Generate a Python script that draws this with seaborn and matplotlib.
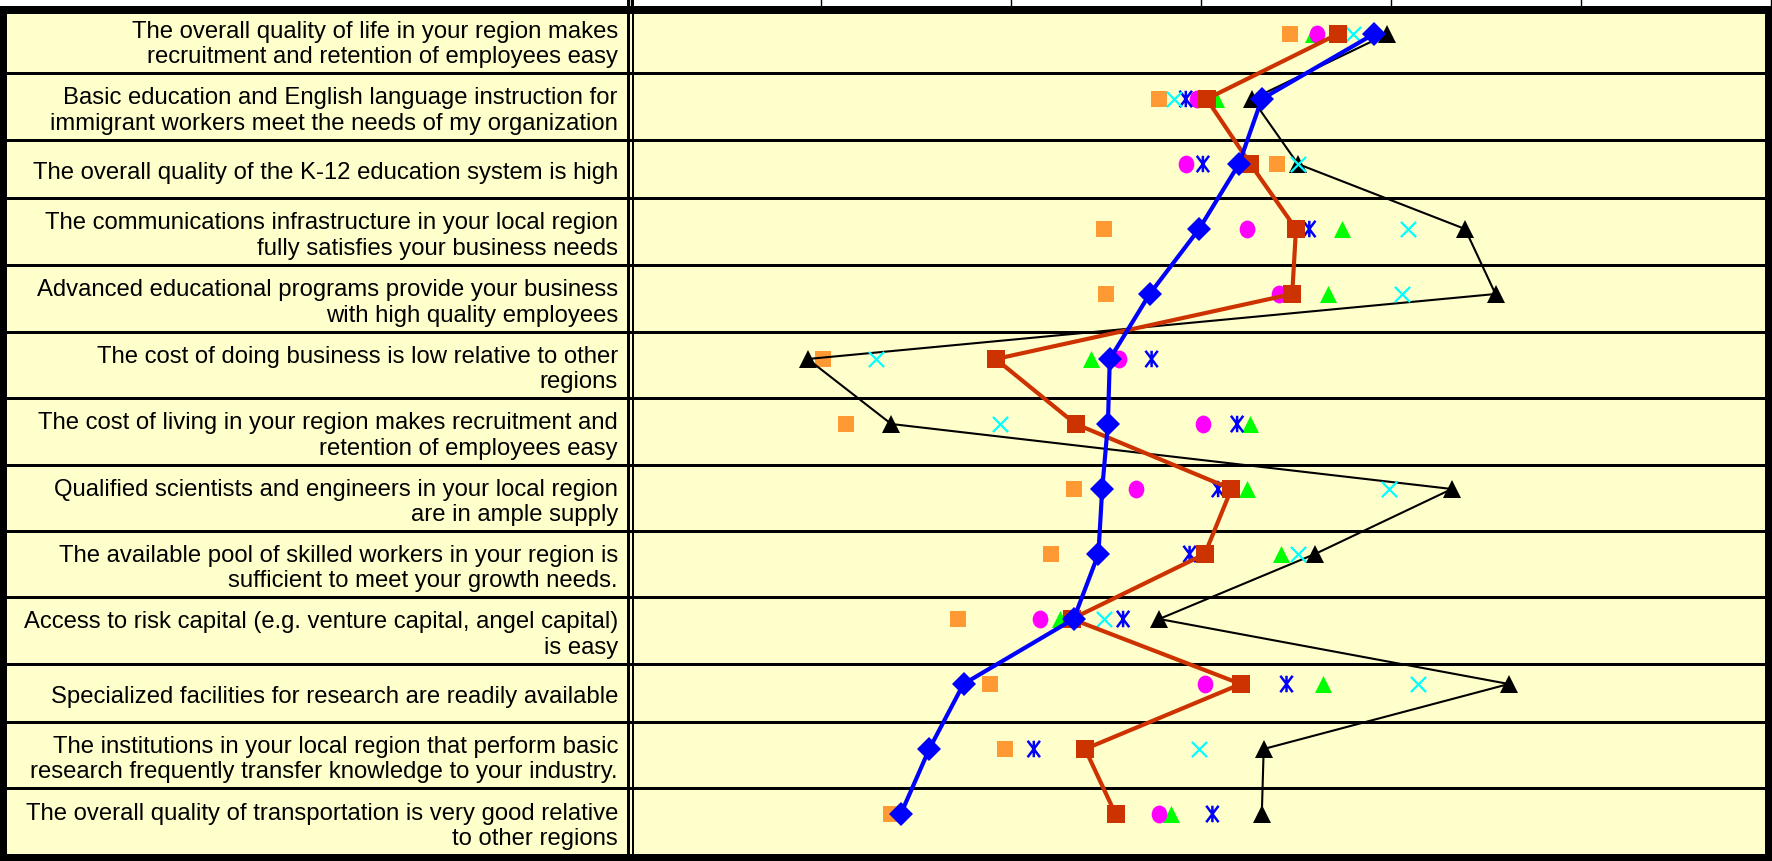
import numpy as np
import pandas as pd
import matplotlib
matplotlib.use("Agg")
import matplotlib.pyplot as plt
from matplotlib.patches import Rectangle
from matplotlib.path import Path
import seaborn as sns

# survey statements, one per table row
statements = [
    "The overall quality of life in your region makes\nrecruitment and retention of employees easy",
    "Basic education and English language instruction for\nimmigrant workers meet the needs of my organization",
    "The overall quality of the K-12 education system is high",
    "The communications infrastructure in your local region\nfully satisfies your business needs",
    "Advanced educational programs provide your business\nwith high quality employees",
    "The cost of doing business is low relative to other\nregions",
    "The cost of living in your region makes recruitment and\nretention of employees easy",
    "Qualified scientists and engineers in your local region\nare in ample supply",
    "The available pool of skilled workers in your region is\nsufficient to meet your growth needs.",
    "Access to risk capital (e.g. venture capital, angel capital)\nis easy",
    "Specialized facilities for research are readily available",
    "The institutions in your local region that perform basic\nresearch frequently transfer knowledge to your industry.",
    "The overall quality of transportation is very good relative\nto other regions",
]

# scores per group (nan = hidden under another marker)
orange = [3.47, 2.78, 3.40, 2.49, 2.50, 1.01, 1.13, 2.33, 2.21, 1.72, 1.89, 1.97, 1.37]
green = [3.59, 3.08, np.nan, 3.74, 3.67, 2.42, 3.26, 3.24, 3.42, 2.26, 3.64, np.nan, 2.84]
magenta = [3.61, 2.98, 2.92, 3.24, 3.41, 2.57, 3.01, 2.66, np.nan, 2.15, 3.02, np.nan, 2.78]
asterisk = [np.nan, 2.92, 3.01, 3.57, np.nan, 2.74, 3.19, 3.09, 2.94, 2.59, 3.45, 2.12, 3.06]
black = [3.98, 3.27, 3.51, 4.39, 4.55, 0.93, 1.37, 4.32, 3.60, 2.78, 4.62, 3.33, 3.32]
cyan = [3.80, 2.86, 3.51, 4.09, 4.06, 1.29, 1.94, 3.99, 3.51, 2.49, 4.14, 2.99, np.nan]
red = [3.72, 3.03, 3.26, 3.50, 3.48, 1.92, 2.34, 3.16, 3.02, 2.32, 3.21, 2.39, 2.55]
blue = [3.91, 3.32, 3.20, 2.99, 2.73, 2.52, 2.51, 2.48, 2.46, 2.33, 1.75, 1.57, 1.42]

df = pd.DataFrame({"row": np.arange(len(statements)), "orange": orange, "green": green,
                   "magenta": magenta, "asterisk": asterisk, "black": black,
                   "cyan": cyan, "red": red, "blue": blue})

plt.rcParams["font.family"] = ["Liberation Sans", "DejaVu Sans"]

W, H = 1772, 862
fig = plt.figure(figsize=(W / 100, H / 100), dpi=100)

# table in the background, pixel coords
bg = fig.add_axes([0, 0, 1, 1], zorder=0)
bg.set_xlim(0, W)
bg.set_ylim(H, 0)
bg.axis("off")
row_edges = [7.5, 74, 141, 199, 266, 333, 399, 466, 532, 598, 665, 723, 789.5, 856]
bg.add_patch(Rectangle((0, 7), W, H - 7, color="#FFFFCC", lw=0))
for y in row_edges[1:-1]:
    bg.add_patch(Rectangle((7, y - 1.5), W - 14, 3, color="black", lw=0))
for x, y, w, h in [(0, 7, W, 8), (0, 855, W, 7), (0, 7, 7, H - 7), (1765, 7, 7, H - 7)]:
    bg.add_patch(Rectangle((x, y), w, h, color="black", lw=0))
for xl in (627.5, 632):
    bg.add_patch(Rectangle((xl, 0), 2.5, H, color="black", lw=0))
for lab, top, bot in zip(statements, row_edges[:-1], row_edges[1:]):
    bg.text(618, (top + bot) / 2 + 3.5, lab, ha="right", va="center", fontsize=17.2,
            linespacing=1.2, color="black")

# chart on top
x0, unit = 631, 190
ax = fig.add_axes([x0 / W, (H - 847.5) / H, 6 * unit / W, 845 / H], zorder=1)
ax.patch.set_alpha(0)

ellipse = Path(Path.unit_circle().vertices * [0.88, 1.0], Path.unit_circle().codes)
star = Path([(0, -1), (0, 1), (-0.75, -1), (0.75, 1), (-0.75, 1), (0.75, -1)],
            [Path.MOVETO, Path.LINETO] * 3)

sns.scatterplot(data=df, x="orange", y="row", marker="s", s=120, color="#FF9933",
                linewidth=0, ax=ax, zorder=3)
sns.scatterplot(data=df, x="green", y="row", marker="^", s=150, color="#00FF00",
                linewidth=0, ax=ax, zorder=4)
sns.scatterplot(data=df, x="magenta", y="row", marker=ellipse, s=165, color="#FF00FF",
                linewidth=0, ax=ax, zorder=5)
sns.scatterplot(data=df, x="asterisk", y="row", marker=star, s=140, facecolor="none",
                edgecolor="#0000FF", linewidth=1.8, ax=ax, zorder=6)
sns.lineplot(data=df, x="black", y="row", sort=False, orient="y", estimator=None,
             color="black", lw=1.5, marker="^", markersize=13, markeredgewidth=0,
             legend=False, ax=ax, zorder=7)
sns.scatterplot(data=df, x="cyan", y="row", marker="x", s=120, color="#00FFFF",
                linewidth=1.6, ax=ax, zorder=8)
sns.lineplot(data=df, x="red", y="row", sort=False, orient="y", estimator=None,
             color="#CC3300", lw=3.0, marker="s", markersize=13.5, markeredgewidth=0,
             legend=False, ax=ax, zorder=9)
sns.lineplot(data=df, x="blue", y="row", sort=False, orient="y", estimator=None,
             color="#0000FF", lw=3.0, marker="D", markersize=12.5, markeredgewidth=0,
             legend=False, ax=ax, zorder=10)

ax.set_xlim(0, 6)
ax.set_ylim(len(statements) - 0.5, -0.5)
ax.set_xticks(range(7))
ax.set_yticks([])
ax.tick_params(axis="x", top=True, bottom=False, labeltop=False, labelbottom=False,
               direction="inout", length=7.2, width=1.0, color="black")
for s in ax.spines.values():
    s.set_visible(False)
ax.set_xlabel("")
ax.set_ylabel("")

fig.savefig("out.png", dpi=100)
